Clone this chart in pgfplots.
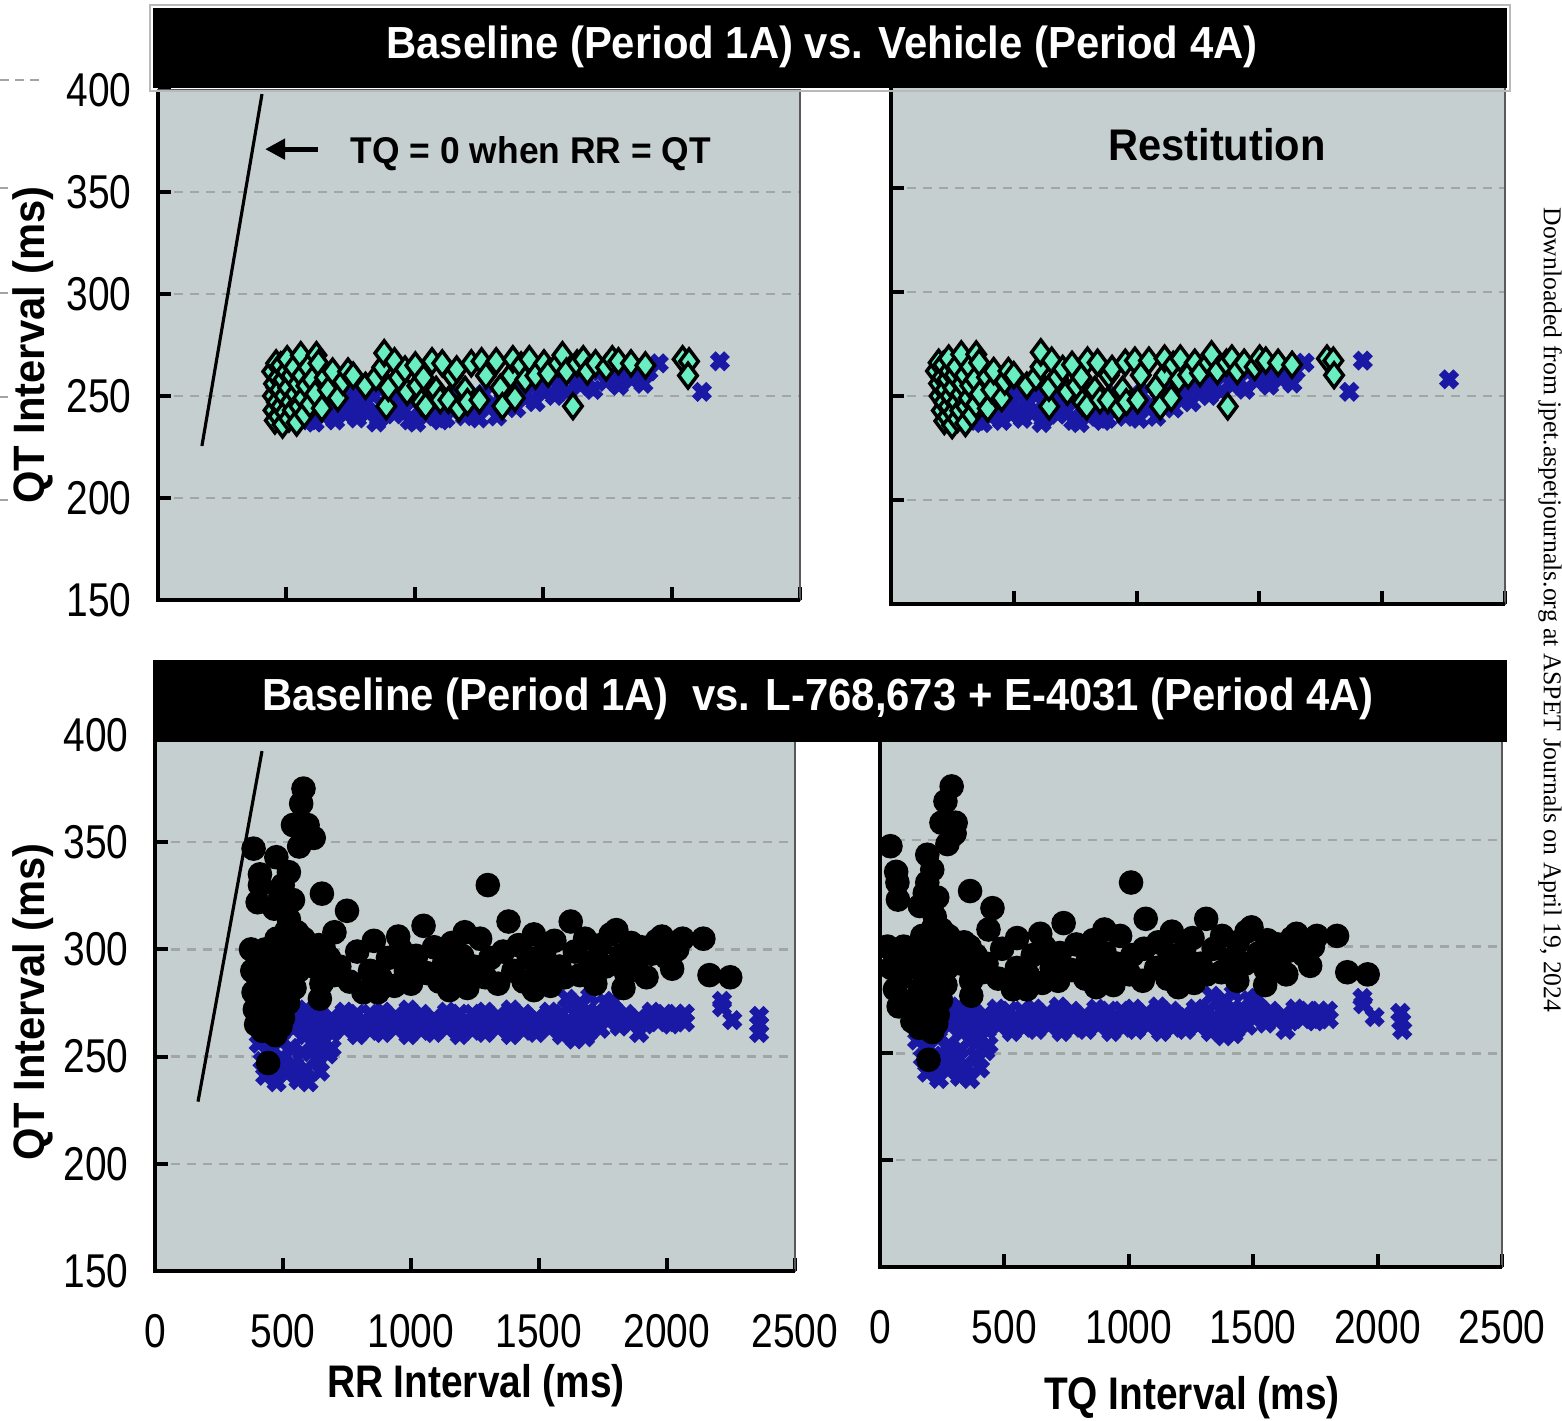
\documentclass[border=0pt]{standalone}
\usepackage{pgfplots}
\usepackage{pgfplotstable}
\pgfplotsset{compat=1.18}
\usepackage{fontspec}
\setmainfont{Liberation Sans}
\newfontfamily\wmfont{Liberation Serif}
\usetikzlibrary{arrows.meta}

\definecolor{bgcol}{RGB}{198,207,207}
\definecolor{gridcol}{RGB}{160,166,166}
\definecolor{navy}{RGB}{25,25,165}
\definecolor{mint}{RGB}{104,238,192}

% vehicle study: rr = RR interval, qt = QT interval, tq = TQ interval (ms)
\pgfplotstableread{
rr qt tq
445 262 183
448 250 198
450 243 207
452 256 196
455 238 217
460 266 194
463 247 216
468 259 209
470 240 230
475 253 222
478 265 213
480 245 235
485 236 249
488 258 230
492 250 242
495 242 253
500 262 238
503 268 235
507 254 253
510 239 271
515 247 268
520 260 260
525 243 282
530 264 266
535 251 284
540 237 303
545 256 289
550 245 305
556 270 286
560 260 300
565 249 316
570 241 329
578 255 323
585 264 321
592 246 346
600 258 342
612 251 361
617 270 347
625 266 359
638 244 394
650 259 391
662 253 409
680 262 418
700 249 451
720 257 463
740 262 478
760 260 500
808 255 553
849 259 590
873 264 609
881 271 610
889 245 644
897 254 643
921 267 654
937 259 678
962 263 699
970 252 718
1002 265 737
1010 255 755
1026 247 779
1034 259 775
1042 245 797
1067 267 800
1083 253 830
1099 248 851
1107 266 841
1131 248 883
1147 260 887
1163 263 900
1172 244 928
1196 253 943
1205 247 958
1220 266 954
1252 248 1004
1260 267 993
1277 260 1017
1317 267 1050
1333 254 1079
1341 245 1096
1373 260 1113
1382 268 1114
1390 249 1141
1414 265 1149
1430 258 1172
1446 268 1178
1470 260 1210
1503 266 1237
1519 261 1258
1559 266 1293
1575 270 1305
1591 262 1329
1616 245 1371
1632 266 1366
1656 268 1388
1672 262 1410
1704 266 1438
1745 264 1481
1769 268 1501
1793 267 1526
1842 266 1576
1898 265 1633
2043 268 1775
2068 267 1801
2064 260 1804
}\vehgreen

\pgfplotstableread{
rr qt tq
455 252 203
460 245 215
470 258 212
480 241 239
490 249 241
500 255 245
510 238 272
520 246 274
530 252 278
540 241 299
550 259 291
560 244 316
575 250 325
590 238 352
600 255 345
610 237 373
615 243 372
630 248 382
645 240 405
660 252 408
675 245 430
690 238 452
700 256 444
715 247 468
730 241 489
745 251 494
760 244 516
775 239 536
790 254 536
805 247 558
820 242 578
840 250 590
850 237 613
860 239 621
880 245 635
900 253 647
920 241 679
940 248 692
960 243 717
980 238 742
1000 250 750
1005 237 768
1020 244 776
1045 240 805
1070 252 818
1095 246 849
1100 238 862
1120 239 881
1145 243 902
1170 250 920
1195 240 955
1220 247 973
1245 243 1002
1250 239 1011
1270 251 1019
1295 245 1050
1320 240 1080
1345 248 1097
1370 253 1117
1395 244 1151
1420 250 1170
1445 256 1189
1470 247 1223
1495 253 1242
1520 259 1261
1545 250 1295
1570 256 1314
1595 252 1343
1620 260 1360
1645 255 1390
1670 258 1412
1695 253 1442
1720 262 1458
1745 257 1488
1770 260 1510
1795 255 1540
1820 261 1559
1845 258 1587
1870 263 1607
1890 256 1634
1910 262 1648
1950 266 1684
2118 252 1866
2188 267 1921
2530 258 2272
}\vehblue

% drug study
\pgfplotstableread{
rr qt tq
580 375 288
571 368 263
539 358 247
596 358 304
604 353 300
620 352 290
563 348 271
385 347 42
474 343 190
410 335 65
410 330 70
401 322 72
523 336 210
499 330 190
490 325 180
466 319 160
539 323 230
523 314 220
515 309 215
652 326 362
750 318 452
701 308 436
375 300 30
380 290 45
385 280 60
390 272 75
395 265 130
400 296 60
405 285 80
410 275 135
415 268 147
420 262 158
430 300 95
435 290 110
440 280 160
445 270 175
450 264 186
455 295 160
460 283 177
470 272 198
475 305 170
480 290 190
490 278 212
500 268 232
505 300 205
510 285 225
520 275 245
530 292 238
540 300 240
545 282 263
555 308 247
560 290 270
575 296 279
580 305 275
600 298 302
620 292 328
640 302 338
650 284 366
660 300 360
680 296 384
700 288 412
455 262 193
470 260 210
490 264 226
442 247 195
644 277 367
814 280 534
855 304 551
720 292 428
760 285 475
790 299 491
840 290 550
870 280 590
880 287 593
910 296 614
935 283 652
950 306 644
960 300 660
980 290 690
1000 284 716
1020 297 723
1049 311 738
1060 289 771
1090 301 789
1110 285 825
1130 294 836
1150 281 869
1160 303 857
1180 288 892
1200 297 903
1210 308 902
1220 282 938
1245 292 953
1270 305 965
1290 287 1003
1300 330 1009
1310 296 1014
1340 284 1056
1360 299 1061
1381 313 1068
1400 290 1110
1420 302 1118
1440 285 1155
1460 296 1164
1480 307 1173
1480 281 1199
1500 289 1211
1520 298 1222
1545 283 1262
1560 304 1256
1580 292 1288
1600 287 1313
1624 313 1311
1640 299 1341
1660 288 1372
1680 305 1375
1700 294 1406
1720 284 1436
1740 302 1438
1760 292 1468
1780 307 1473
1802 309 1493
1820 297 1523
1830 282 1548
1840 289 1551
1860 303 1557
1880 295 1585
1900 301 1599
1920 287 1633
1940 298 1642
1960 304 1656
1980 306 1674
2000 296 1704
2020 291 1729
2040 300 1740
2061 305 1756
2142 305 1837
2166 288 1878
2247 287 1960
}\drugblack

\pgfplotstableread{
rr qt tq
440 270 170
490 271 219
540 269 271
590 272 318
640 270 370
690 268 422
740 271 469
790 270 520
840 270 570
890 271 619
940 269 671
990 272 718
1040 270 770
1090 268 822
1140 271 869
1190 270 920
1240 270 970
1290 271 1019
1340 269 1071
1390 272 1118
1440 270 1170
1490 268 1222
1540 271 1269
1590 270 1320
1640 270 1370
1690 271 1419
1740 269 1471
1790 272 1518
1840 270 1570
1890 268 1622
1940 271 1669
1990 270 1720
465 266 199
515 265 250
565 267 298
615 264 351
665 266 399
715 265 450
765 266 499
815 265 550
865 267 598
915 264 651
965 266 699
1015 265 750
1065 266 799
1115 265 850
1165 267 898
1215 264 951
1265 266 999
1315 265 1050
1365 266 1099
1415 265 1150
1465 267 1198
1515 264 1251
1565 266 1299
1615 265 1350
1665 266 1399
1715 265 1450
1765 267 1498
1815 264 1551
1865 266 1599
1915 265 1650
1965 266 1699
2015 265 1750
440 262 178
490 261 229
540 263 277
590 260 330
640 262 378
690 261 429
740 263 477
790 260 530
840 262 578
890 261 629
940 263 677
990 260 730
1040 262 778
1090 261 829
1140 263 877
1190 260 930
1240 262 978
1290 261 1029
1340 263 1077
1390 260 1130
1440 262 1178
1490 261 1229
1540 263 1277
1590 260 1330
1640 262 1378
1690 261 1429
1740 263 1477
405 256 149
420 248 172
430 241 189
445 253 192
460 244 216
475 238 237
490 257 233
500 249 251
515 242 273
530 254 276
545 246 299
560 239 321
575 252 323
590 244 346
600 238 362
615 256 359
630 249 381
645 243 402
660 257 403
675 251 424
690 254 436
1610 277 1333
1660 275 1385
1700 278 1422
1760 275 1485
1790 276 1514
1640 258 1382
1680 259 1421
1891 261 1630
2035 270 1765
2070 270 1800
2035 266 1769
2070 266 1804
2215 276 1939
2215 273 1942
2255 267 1988
2360 269 2091
2360 265 2095
2360 261 2099
}\drugblue

\pgfplotsset{
  panel/.style={
    scale only axis,
    anchor=south west,
    xmin=0, xmax=2500, ymin=150, ymax=400,
    xtick={0,500,...,2500},
    ytick={150,200,...,400},
    xtick pos=left, ytick pos=left,
    tick align=inside,
    major tick length=0.13cm,
    tick style={black, line width=1.1pt},
    ymajorgrids,
    grid style={gridcol, line width=0.7pt, dash pattern=on 0.09cm off 0.07cm},
    axis line style={draw=gray!70!black, line width=0.5pt},
    axis background/.style={fill=bgcol},
    clip marker paths=true,
    scaled ticks=false,
    /pgf/number format/1000 sep={},
    /pgf/number format/assume math mode=true,
    tick label style={font=\fontsize{13.5}{14}\selectfont, xscale=0.82, black},
    xticklabel style={yshift=-0.31cm},
    yticklabel style={xshift=-0.20cm},
    after end axis/.code={
      \draw[black, line width=1.1pt] (rel axis cs:0,1) -- (rel axis cs:0,0) -- (rel axis cs:1,0);
    },
  },
  bluex/.style={only marks, mark=x, mark size=2.9pt, color=navy, line width=2.3pt},
  greendia/.style={only marks, mark=diamond*, mark size=3.5pt, color=black,
    line width=1pt, mark options={fill=mint}},
  blackdot/.style={only marks, mark=*, mark size=3.3pt, color=black},
}

\begin{document}
\begin{tikzpicture}
\useasboundingbox (0,0) rectangle (15.62,14.20);

% top left: QT vs RR, vehicle
\begin{axis}[panel, at={(1.58cm,8.20cm)}, width=6.42cm, height=5.10cm,
    xticklabels={}]
  \addplot[black, line width=0.9pt, no marks] coordinates {(171,225.5) (405,398)};
  \addplot[bluex] table[x=rr, y=qt] {\vehblue};
  \addplot[greendia] table[x=rr, y=qt] {\vehgreen};
  \draw[-{Triangle[length=0.2cm, width=0.2cm]}, line width=1.4pt] (axis cs:623,371) -- (axis cs:417,371);
  \node[font=\fontsize{10.6}{12}\selectfont\bfseries, xscale=0.95] at (axis cs:1452,369) {TQ = 0 when RR = QT};
\end{axis}

% top right: restitution, vehicle
\begin{axis}[panel, at={(8.91cm,8.16cm)}, width=6.14cm, height=5.20cm,
    xticklabels={}, yticklabels={}]
  \addplot[bluex] table[x=tq, y=qt] {\vehblue};
  \addplot[greendia] table[x=tq, y=qt] {\vehgreen};
  \node[font=\fontsize{12.6}{14}\selectfont\bfseries, xscale=0.94] at (axis cs:1327,371) {Restitution};
\end{axis}

% bottom left: QT vs RR, L-768,673 + E-4031
\begin{axis}[panel, at={(1.55cm,1.49cm)}, width=6.40cm, height=5.36cm]
  \addplot[black, line width=0.9pt, no marks] coordinates {(168,229) (418,392.5)};
  \addplot[bluex] table[x=rr, y=qt] {\drugblue};
  \addplot[blackdot] table[x=rr, y=qt] {\drugblack};
\end{axis}

% bottom right: restitution, L-768,673 + E-4031
\begin{axis}[panel, at={(8.80cm,1.53cm)}, width=6.22cm, height=5.34cm,
    yticklabels={}]
  \addplot[bluex] table[x=tq, y=qt] {\drugblue};
  \addplot[blackdot] table[x=tq, y=qt] {\drugblack};
\end{axis}

% title bars
\draw[gray!55, line width=0.5pt] (1.50,13.29) rectangle (15.10,14.15);
\fill[black] (1.53,13.32) rectangle (15.07,14.12);
\node[white, font=\fontsize{12.8}{14}\selectfont\bfseries, xscale=0.93] at (8.22,13.73)
  {Baseline (Period 1A) vs. Vehicle (Period 4A)};
\fill[black] (1.53,6.78) rectangle (15.07,7.60);
\node[white, font=\fontsize{12.8}{14}\selectfont\bfseries, xscale=0.93] at (8.18,7.21)
  {Baseline (Period 1A)\ \ vs. L-768,673 + E-4031 (Period 4A)};

% axis titles
\node[rotate=90, font=\fontsize{12.5}{14}\selectfont\bfseries, xscale=0.95, inner sep=0pt] at (0.33,10.75) {QT Interval (ms)};
\node[rotate=90, font=\fontsize{12.5}{14}\selectfont\bfseries, xscale=0.95, inner sep=0pt] at (0.33,4.18) {QT Interval (ms)};
\node[font=\fontsize{13}{14}\selectfont\bfseries, xscale=0.85, inner sep=0pt] at (4.76,0.34) {RR Interval (ms)};
\node[font=\fontsize{13}{14}\selectfont\bfseries, xscale=0.85, inner sep=0pt] at (11.92,0.22) {TQ Interval (ms)};

% fragments of the neighbouring figure at the left edge
\draw[gridcol, line width=0.7pt, dash pattern=on 0.09cm off 0.06cm] (0,13.40) -- (0.40,13.40);
\foreach \yy in {12.32,11.27,10.23,9.20}
  \draw[gridcol, line width=0.7pt] (0,\yy) -- (0.08,\yy);

% download stamp
\node[rotate=-90, font=\fontsize{7.3}{9}\wmfont, inner sep=0pt] at (15.50,8.10)
  {Downloaded from jpet.aspetjournals.org at ASPET Journals on April 19, 2024};
\end{tikzpicture}
\end{document}
